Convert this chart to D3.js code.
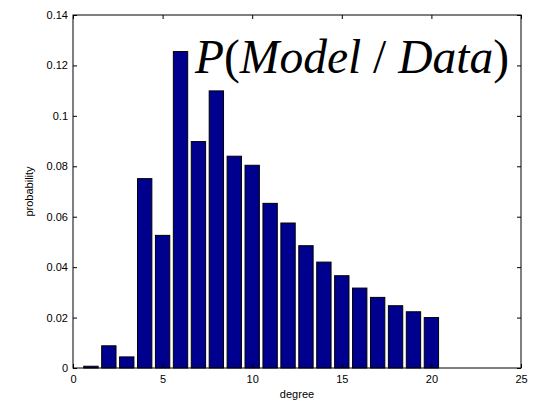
<!DOCTYPE html>
<html><head><meta charset="utf-8">
<script src="https://cdn.jsdelivr.net/npm/d3@7"></script>
<style>body{margin:0;background:#fff}svg{display:block}</style>
</head><body>
<svg id="c" width="538" height="405"></svg>
<script>
const degrees = [1,2,3,4,5,6,7,8,9,10,11,12,13,14,15,16,17,18,19,20];
const probability = [0.0007,0.0088,0.0044,0.0751,0.0526,0.1255,0.0898,0.1099,0.0840,0.0804,0.0653,0.0575,0.0485,0.0420,0.0366,0.0317,0.0280,0.0247,0.0223,0.0200];
const xTicks = [0,5,10,15,20,25];
const yTicks = [0,0.02,0.04,0.06,0.08,0.1,0.12,0.14];
const yTickLabels = ["0","0.02","0.04","0.06","0.08","0.1","0.12","0.14"];
// title pieces: [text, italic?]
const titleParts = [["P",true],["(",false],["Model",true],[" / ",false],["Data",true],[")",false]];
const xLabel = "degree", yLabel = "probability";

const L=73,R=521,T=15,B=368;
const svg=d3.select("#c");
const x=d3.scaleLinear().domain([0,25]).range([L,R]);
const y=d3.scaleLinear().domain([0,0.14]).range([B,T]);
const bw=(x(1)-x(0))*0.8;

svg.append("g").selectAll("rect").data(degrees).join("rect")
  .attr("x",(d)=>x(d)-bw/2).attr("width",bw)
  .attr("y",(d,i)=>y(probability[i])).attr("height",(d,i)=>B-y(probability[i]))
  .attr("fill","rgb(0,0,143)").attr("stroke","#000").attr("stroke-width",1);

const font="'Liberation Sans', Arial, sans-serif";
svg.append("rect").attr("x",L).attr("y",T).attr("width",R-L).attr("height",B-T)
  .attr("fill","none").attr("stroke","#000").attr("stroke-width",1);

const tl=4;
const ax=svg.append("g").attr("font-family",font).attr("font-size",11);
ax.append("g").attr("transform",`translate(0,${B})`)
  .call(d3.axisBottom(x).tickValues(xTicks).tickSizeInner(-tl).tickSizeOuter(0).tickPadding(7).tickFormat(d3.format("d")));
ax.append("g").attr("transform",`translate(0,${T})`)
  .call(d3.axisTop(x).tickValues(xTicks).tickSizeInner(-tl).tickSizeOuter(0).tickFormat(""));
ax.append("g").attr("transform",`translate(${L},0)`)
  .call(d3.axisLeft(y).tickValues(yTicks).tickSizeInner(-tl).tickSizeOuter(0).tickPadding(5).tickFormat((d,i)=>yTickLabels[i]));
ax.append("g").attr("transform",`translate(${R},0)`)
  .call(d3.axisRight(y).tickValues(yTicks).tickSizeInner(-tl).tickSizeOuter(0).tickFormat(""));
ax.selectAll(".domain").remove();
ax.selectAll("text").attr("fill","#000").attr("font-family",font).attr("font-size",11);
ax.selectAll("line").attr("stroke","#000");

svg.append("text").attr("x",(L+R)/2).attr("y",398).attr("text-anchor","middle")
  .attr("font-family",font).attr("font-size",11).text(xLabel);
svg.append("text").attr("transform",`translate(33,${(T+B)/2}) rotate(-90)`).attr("text-anchor","middle")
  .attr("font-family",font).attr("font-size",11).text(yLabel);

const tt=svg.append("text").attr("x",195).attr("y",73)
  .attr("font-family","'Liberation Serif','Times New Roman',serif")
  .attr("font-size",48).attr("fill","#000").attr("xml:space","preserve");
tt.selectAll("tspan").data(titleParts).join("tspan")
  .attr("font-style",d=>d[1]?"italic":"normal").text(d=>d[0]);
// fit to target span 195..509
const w=tt.node().getComputedTextLength();
tt.attr("font-size",48*314/w);
</script>
</body></html>
